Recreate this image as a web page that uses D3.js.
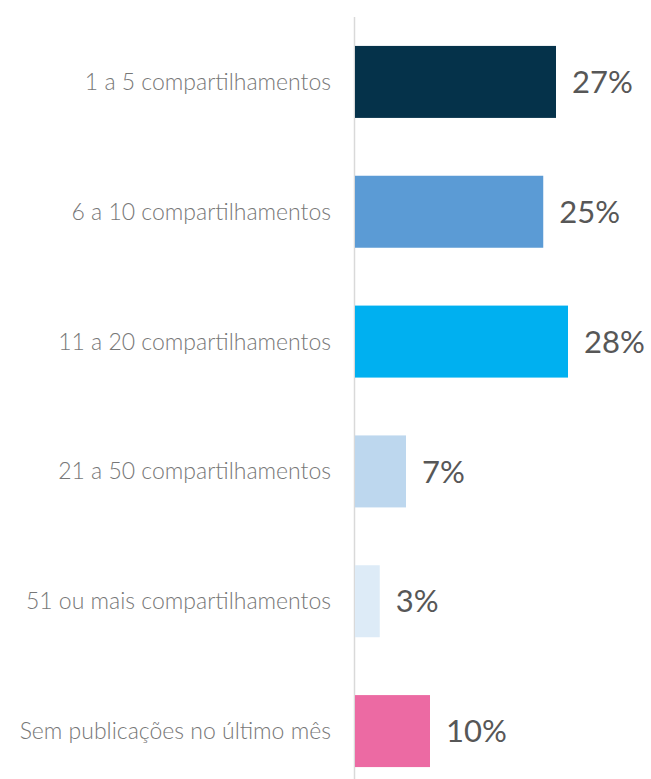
<!DOCTYPE html>
<html>
<head>
<meta charset="utf-8">
<script src="https://cdn.jsdelivr.net/npm/d3@7"></script>
<style>
	body { margin: 0; background: #fff; }
	svg { display: block; }
</style>
</head>
<body>
<svg id="chart" width="651" height="779"></svg>
<script>
// data
const categories = [
	"1 a 5 compartilhamentos",
	"6 a 10 compartilhamentos",
	"11 a 20 compartilhamentos",
	"21 a 50 compartilhamentos",
	"51 ou mais compartilhamentos",
	"Sem publicações no último mês"
]
const values = [26.8, 25.1, 28.4, 6.8, 3.3, 10.0]
const colors = ['#05324a', '#5b9bd5', '#00b0f0', '#bdd7ee', '#ddebf7', '#ec6aa3']

const svg = d3.select('#chart')

const x = d3.scaleLinear().domain([0, 40]).range([355, 655])
const y = d3.scaleBand().domain(categories).range([17, 796]).paddingInner(0.4455).paddingOuter(0.22275)

// vertical axis line
svg.append('line')
	.attr('x1', 354.5).attr('x2', 354.5)
	.attr('y1', 17).attr('y2', 779)
	.attr('stroke', '#d9d9d9')
	.attr('stroke-width', 1.5)

svg.selectAll('.bar').data(categories).enter()
	.append('rect')
	.attr('class', 'bar')
	.attr('x', x(0))
	.attr('y', d => y(d))
	.attr('width', (d, i) => x(values[i]) - x(0))
	.attr('height', y.bandwidth())
	.attr('fill', (d, i) => colors[i])

svg.selectAll('.cat').data(categories).enter()
	.append('text')
	.attr('class', 'cat')
	.attr('x', 331)
	.attr('y', d => y(d) + y.bandwidth() / 2)
	.attr('dy', '0.35em')
	.attr('text-anchor', 'end')
	.style('font-family', 'Lato')
	.style('font-weight', 300)
	.style('font-size', '23px')
	.attr('fill', '#777777')
	.text(d => d)

svg.selectAll('.val').data(categories).enter()
	.append('text')
	.attr('class', 'val')
	.attr('x', (d, i) => x(values[i]) + 16)
	.attr('y', d => y(d) + y.bandwidth() / 2)
	.attr('dy', '0.36em')
	.style('font-family', 'Lato')
	.style('font-size', '31px')
	.attr('fill', '#575757')
	.text((d, i) => Math.round(values[i]) + '%')
</script>
</body>
</html>
